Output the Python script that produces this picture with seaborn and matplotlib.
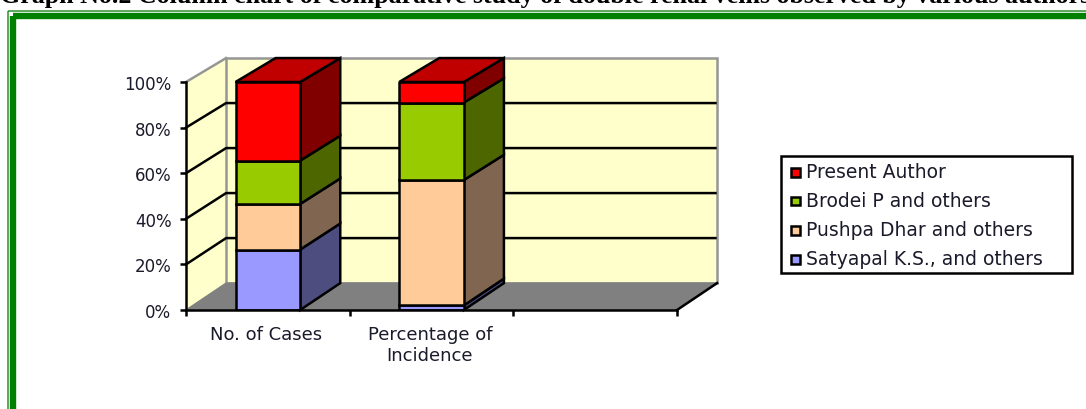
import numpy as np
import pandas as pd
import seaborn as sns
import matplotlib.pyplot as plt
from matplotlib.patches import Rectangle

categories = ['No. of Cases', 'Percentage of\nIncidence']
authors = ['Satyapal K.S., and others', 'Pushpa Dhar and others', 'Brodei P and others', 'Present Author']
satyapal = [26.5, 2]
pushpa = [20, 55]
brodei = [19, 34]
present = [34.5, 9]
y_ticks = [0, 20, 40, 60, 80, 100]
y_labels = ['0%', '20%', '40%', '60%', '80%', '100%']

front_colors = ['#9999FF', '#FFCC99', '#99CC00', '#FF0000']
side_colors = ['#4D4D80', '#806650', '#4D6600', '#800000']
top_color = '#C00000'
wall = '#FFFFCC'
floor = '#808080'
edge = 'black'
text_color = '#1A1A2A'

W, H = 1086, 410
# depth of the fake 3d box, in data units
DX = 0.245
BAR_W = 0.395
LW = 1.8


def back(v):
    # where a value on the front plane lands on the back plane
    return v + 11.8 - 0.013 * v


fig = plt.figure(figsize=(W / 100, H / 100), dpi=100, facecolor='white')

# page furniture, figure pixels
bg = fig.add_axes([0, 0, 1, 1])
bg.set_xlim(0, W)
bg.set_ylim(H, 0)
bg.axis('off')
bg.add_patch(Rectangle((8, 12), 1200, 600, fill=False, ec='#2E8F2E', lw=1.1, joinstyle='miter'))
bg.add_patch(Rectangle((13.3, 17), 1200, 600, fill=False, ec='#008000', lw=4.6, joinstyle='miter'))
bg.text(0, 3, 'Graph No.2 Column chart of comparative study of double renal veins observed by various authors',
        ha='left', va='baseline', fontsize=18.7, fontweight='bold', family='Liberation Serif', color='black')

# main axes: x 186..677, y 311..83
ax = fig.add_axes([186 / W, 1 - 311 / H, 491 / W, 228 / H])
ax.patch.set_alpha(0)

df = pd.DataFrame({
    'category': categories * 4,
    'author': np.repeat(authors, 2),
    'value': satyapal + pushpa + brodei + present,
})

x0, x1 = -0.5, 2.5

# walls and floor
ax.fill([x0, x0 + DX, x0 + DX, x0], [0, back(0), back(100), 100], color=wall, ec='none', clip_on=False, zorder=1)
ax.plot([x0, x0 + DX], [100, back(100)], color='#969696', lw=LW, clip_on=False, zorder=1.2)
ax.fill([x0 + DX, x1 + DX, x1 + DX, x0 + DX], [back(0), back(0), back(100), back(100)], color=wall, ec='#969696',
        lw=LW, clip_on=False, zorder=1.1)
ax.fill([x0, x1, x1 + DX, x0 + DX], [0, 0, back(0), back(0)], color=floor, ec=floor, lw=1, clip_on=False, zorder=1.5)
ax.plot([x1, x1 + DX], [0, back(0)], color=edge, lw=LW, clip_on=False, zorder=1.6)
for t in y_ticks[1:-1]:
    ax.plot([x0, x0 + DX, x1 + DX - 0.01], [t, back(t), back(t)], color=edge, lw=LW, clip_on=False, zorder=1.6)

# stacked front faces
bottom = np.zeros(len(categories))
for i, author in enumerate(authors):
    sub = df[df['author'] == author]
    sns.barplot(data=sub, x='category', y='value', bottom=bottom, color=front_colors[i], saturation=1,
                width=BAR_W, edgecolor=edge, linewidth=LW, ax=ax, zorder=4, errorbar=None)
    vals = sub['value'].to_numpy()
    for c in range(len(categories)):
        right = c + BAR_W / 2
        b, t = bottom[c], bottom[c] + vals[c]
        ax.fill([right, right + DX, right + DX, right], [b, back(b), back(t), t],
                color=side_colors[i], ec=edge, lw=LW, clip_on=False, zorder=3)
    bottom = bottom + vals

for c in range(len(categories)):
    left, right = c - BAR_W / 2, c + BAR_W / 2
    ax.fill([left, right, right + DX, left + DX], [100, 100, back(100), back(100)], color=top_color, ec=edge, lw=LW,
            clip_on=False, zorder=3)

ax.set_xlim(x0, x1)
ax.set_ylim(0, 100)
ax.set_xlabel('')
ax.set_ylabel('')
for s in ['top', 'right']:
    ax.spines[s].set_visible(False)
for s in ['left', 'bottom']:
    ax.spines[s].set_linewidth(LW)
    ax.spines[s].set_zorder(5)

ax.set_yticks(y_ticks)
ax.set_yticklabels(y_labels, fontsize=12, family='DejaVu Sans', color=text_color)
ax.set_xticks([x0, 0.5, 1.5, x1])
ax.set_xticklabels([])
ax.tick_params(axis='y', length=4.5, width=LW, pad=6)
ax.tick_params(axis='x', length=4.5, width=LW)
for c, label in enumerate(categories):
    ax.annotate(label, (c - 0.01, 0), xytext=(0, -11), textcoords='offset points', ha='center', va='top',
                fontsize=13, family='DejaVu Sans', color=text_color, linespacing=1.2)

# legend
bg.add_patch(Rectangle((781, 157), 291, 116.5, fc='white', ec=edge, lw=LW, zorder=2))
for i, y in zip([3, 2, 1, 0], [173, 201.5, 231, 260]):
    bg.add_patch(Rectangle((791, y - 4), 8.5, 8.5, fc=front_colors[i], ec=edge, lw=LW, zorder=3))
    bg.text(806, y, authors[i], fontsize=13.5, family='DejaVu Sans', color=text_color, va='center', zorder=3)

fig.savefig('out.png', dpi=100)
